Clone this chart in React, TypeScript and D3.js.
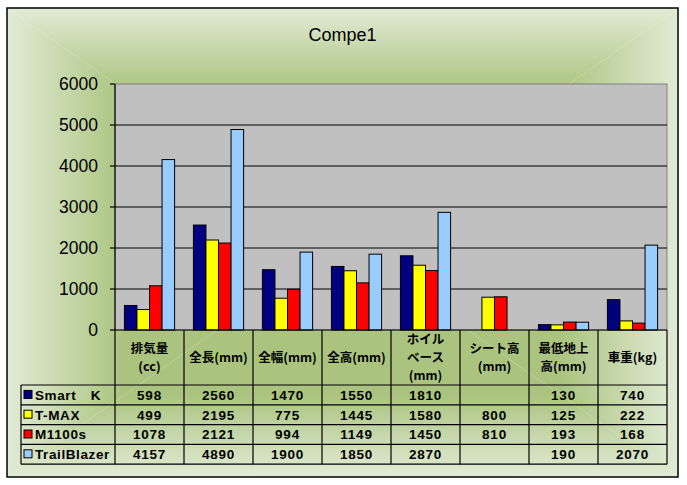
import React from "react";
import * as d3 from "d3";

const title = "Compe1";
const categories = ["排気量\n(cc)", "全長(mm)", "全幅(mm)", "全高(mm)", "ホイル\nベース\n(mm)", "シート高\n(mm)", "最低地上\n高(mm)", "車重(kg)"];
const seriesNames = ["Smart　K", "T-MAX", "M1100s", "TrailBlazer"];
const seriesColors = ["#000080", "#FFFF00", "#FF0000", "#99CCFF"];
const smartK: (number | null)[] = [598, 2560, 1470, 1550, 1810, null, 130, 740];
const tMax: (number | null)[] = [499, 2195, 775, 1445, 1580, 800, 125, 222];
const m1100s: (number | null)[] = [1078, 2121, 994, 1149, 1450, 810, 193, 168];
const trailBlazer: (number | null)[] = [4157, 4890, 1900, 1850, 2870, null, 190, 2070];
const seriesValues = [smartK, tMax, m1100s, trailBlazer];
const yTicks = [0, 1000, 2000, 3000, 4000, 5000, 6000];

const W = 687, H = 485;
const plot = { left: 115, right: 667, top: 84, bottom: 330 };
const frame = { x0: 7, y0: 8, x1: 678, y1: 477 };
const tableLeft = 21;
const rowTop = 385;
const rowH = 19.8;

export default function App() {
  const x0 = d3.scaleBand<number>().domain(d3.range(categories.length)).range([plot.left, plot.right]).paddingInner(0).paddingOuter(0);
  const x1 = d3.scaleBand<number>().domain(d3.range(seriesNames.length)).range([0, x0.bandwidth()]).paddingInner(0).paddingOuter(0.75);
  const y = d3.scaleLinear().domain([0, 6000]).range([plot.bottom, plot.top]);
  const cx = (frame.x0 + frame.x1) / 2, cy = (frame.y0 + frame.y1) / 2;
  const pale = "#E2EBD6", dark = "#AAC47F";
  const cjk = "'Noto Sans CJK JP', 'Noto Sans', sans-serif";
  const num = "'Liberation Sans', Arial, sans-serif";
  const rowLines = d3.range(seriesNames.length + 1).map((i) => rowTop + i * rowH);
  const tableBottom = rowLines[rowLines.length - 1];

  return (
    <svg width={W} height={H} style={{ position: "absolute", left: 0, top: 0 }} xmlns="http://www.w3.org/2000/svg">
      <defs>
        <linearGradient id="gTop" gradientUnits="userSpaceOnUse" x1={0} y1={frame.y0} x2={0} y2={cy}>
          <stop offset="0" stopColor={pale} /><stop offset="0.35" stopColor={dark} /><stop offset="1" stopColor={dark} />
        </linearGradient>
        <linearGradient id="gBot" gradientUnits="userSpaceOnUse" x1={0} y1={frame.y1} x2={0} y2={cy}>
          <stop offset="0" stopColor={pale} /><stop offset="0.35" stopColor={dark} /><stop offset="1" stopColor={dark} />
        </linearGradient>
        <linearGradient id="gLeft" gradientUnits="userSpaceOnUse" x1={frame.x0} y1={0} x2={cx} y2={0}>
          <stop offset="0" stopColor={pale} /><stop offset="0.35" stopColor={dark} /><stop offset="1" stopColor={dark} />
        </linearGradient>
        <linearGradient id="gRight" gradientUnits="userSpaceOnUse" x1={frame.x1} y1={0} x2={cx} y2={0}>
          <stop offset="0" stopColor={pale} /><stop offset="0.35" stopColor={dark} /><stop offset="1" stopColor={dark} />
        </linearGradient>
      </defs>
      <rect x={0} y={0} width={W} height={H} fill="#fff" />
      {/* background rectangular path gradient */}
      <polygon points={`${frame.x0},${frame.y0} ${frame.x1},${frame.y0} ${cx},${cy}`} fill="url(#gTop)" />
      <polygon points={`${frame.x0},${frame.y1} ${frame.x1},${frame.y1} ${cx},${cy}`} fill="url(#gBot)" />
      <polygon points={`${frame.x0},${frame.y0} ${frame.x0},${frame.y1} ${cx},${cy}`} fill="url(#gLeft)" />
      <polygon points={`${frame.x1},${frame.y0} ${frame.x1},${frame.y1} ${cx},${cy}`} fill="url(#gRight)" />
      <rect x={frame.x0} y={frame.y0} width={frame.x1 - frame.x0} height={frame.y1 - frame.y0} fill="none" stroke="#000" strokeWidth={1.5} />

      <text x={cx} y={41} textAnchor="middle" fontFamily={num} fontSize={18} fill="#000">{title}</text>

      {/* plot area */}
      <rect x={plot.left} y={plot.top} width={plot.right - plot.left} height={plot.bottom - plot.top} fill="#C0C0C0" stroke="#808080" strokeWidth={1} />
      {yTicks.filter((t) => t > 0 && t < 6000).map((t) => (
        <line key={t} x1={plot.left} x2={plot.right} y1={y(t)} y2={y(t)} stroke="#000" strokeWidth={1.2} />
      ))}
      {/* bars */}
      {seriesValues.map((vals, si) =>
        vals.map((v, ci) =>
          v == null ? null : (
            <rect key={`${si}-${ci}`} x={(x0(ci) as number) + (x1(si) as number)} y={y(v)} width={x1.bandwidth()} height={y(0) - y(v)}
              fill={seriesColors[si]} stroke="#000" strokeWidth={1} />
          )
        )
      )}
      {/* axis */}
      <line x1={plot.left} x2={plot.left} y1={plot.top} y2={plot.bottom} stroke="#000" strokeWidth={1.2} />
      <line x1={plot.left} x2={plot.right} y1={plot.bottom} y2={plot.bottom} stroke="#000" strokeWidth={1.2} />
      {yTicks.map((t) => (
        <g key={t}>
          <line x1={plot.left - 5} x2={plot.left} y1={y(t)} y2={y(t)} stroke="#000" strokeWidth={1.2} />
          <text x={98} y={y(t)} dy="0.36em" textAnchor="end" fontFamily={num} fontSize={17.5} fill="#000">{t}</text>
        </g>
      ))}

      {/* data table */}
      {x0.domain().concat([categories.length]).map((i) => {
        const xx = i < categories.length ? (x0(i) as number) : plot.right;
        return <line key={`v${i}`} x1={xx} x2={xx} y1={plot.bottom} y2={tableBottom} stroke="#000" strokeWidth={1.2} />;
      })}
      <line x1={tableLeft} x2={tableLeft} y1={rowTop} y2={tableBottom} stroke="#000" strokeWidth={1.2} />
      {rowLines.map((ry, i) => (
        <line key={`h${i}`} x1={tableLeft} x2={plot.right} y1={ry} y2={ry} stroke="#000" strokeWidth={1.2} />
      ))}
      {categories.map((c, ci) => {
        const lines = c.split("\n");
        const mid = (x0(ci) as number) + x0.bandwidth() / 2;
        const lh = 18.2;
        const start = 357.5 - ((lines.length - 1) * lh) / 2;
        return (
          <text key={`c${ci}`} textAnchor="middle" fontFamily={cjk} fontWeight="bold" fontSize={12.5} fill="#000">
            {lines.map((ln, li) => (
              <tspan key={li} x={mid} y={start + li * lh} dy="0.36em">{ln}</tspan>
            ))}
          </text>
        );
      })}
      {seriesNames.map((s, si) => {
        const ry = rowTop + si * rowH + rowH / 2;
        return (
          <g key={s}>
            <rect x={24} y={ry - 4.5} width={8} height={8} fill={seriesColors[si]} stroke="#000" strokeWidth={1} />
            <text x={35} y={ry} dy="0.36em" fontFamily={num} fontWeight="bold" fontSize={13.5} fill="#000" letterSpacing={0.6}>{s}</text>
            {seriesValues[si].map((v, ci) =>
              v == null ? null : (
                <text key={ci} x={(x0(ci) as number) + x0.bandwidth() / 2} y={ry} dy="0.36em" textAnchor="middle" fontFamily={num} fontWeight="bold" fontSize={13.5} fill="#000" letterSpacing={0.8}>{v}</text>
              )
            )}
          </g>
        );
      })}
    </svg>
  );
}
